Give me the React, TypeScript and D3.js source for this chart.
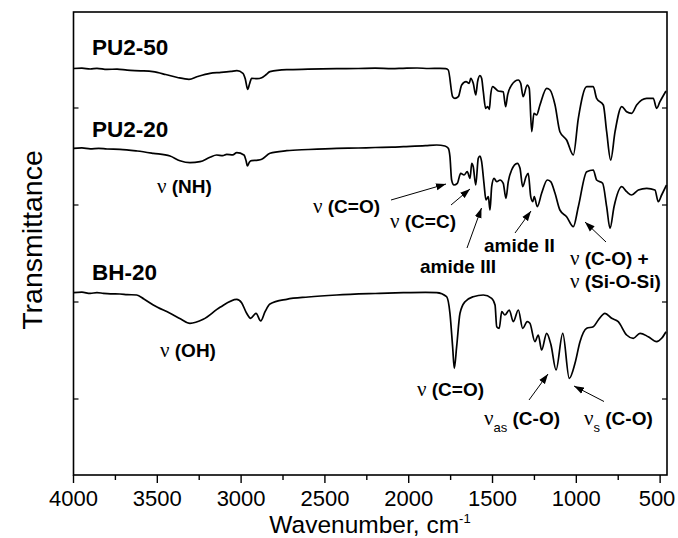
import React from 'react';
import * as d3 from 'd3';

const W = 678;
const H = 538;
const frame = { left: 73.5, right: 667, top: 12, bottom: 475 };

const xDomain: [number, number] = [4000, 459];
const yDomain: [number, number] = [0, 463];
const xMajorTicks = [4000, 3500, 3000, 2500, 2000, 1500, 1000, 500];
const xMinorTicks = [3750, 3250, 2750, 2250, 1750, 1250, 750];
const yTicks = [76, 173, 270, 367];

// wavenumber (cm^-1), transmittance (a.u., offset-stacked)
const pu250: [number, number][] = [
  [4000, 406.5], [3950, 406.9], [3900, 406.0], [3860, 406.7], [3800, 405.6], [3740, 405.9],
  [3680, 404.8], [3600, 404.2], [3526, 403.3], [3450, 400.5], [3380, 397.5], [3311, 395.7],
  [3260, 398.5], [3186, 401.7], [3120, 402.6], [3060, 403.6], [3025, 404.3], [2989, 401.7],
  [2975, 396.0], [2961, 385.7], [2950, 391.0], [2937, 396.7], [2905, 396.3], [2877, 397.3],
  [2850, 400.5], [2828, 403.3], [2728, 405.3], [2600, 405.8], [2430, 406.3], [2300, 406.5],
  [2200, 406.9], [2100, 406.4], [2034, 406.7], [1950, 407.0], [1880, 406.5], [1813, 406.7],
  [1780, 406.3], [1764, 405.0], [1738, 378.3], [1724, 376.7], [1704, 378.3], [1684, 390.0],
  [1658, 393.3], [1639, 391.7], [1630, 396.7], [1615, 391.7], [1600, 380.0], [1589, 393.3],
  [1575, 399.3], [1565, 396.7], [1555, 383.3], [1541, 366.7], [1529, 368.3], [1519, 365.7],
  [1511, 380.0], [1499, 388.3], [1485, 386.7], [1466, 384.0], [1436, 383.3], [1422, 368.3],
  [1410, 380.0], [1386, 390.0], [1346, 395.0], [1332, 391.7], [1317, 378.3], [1293, 390.0],
  [1281, 386.7], [1266, 343.3], [1253, 361.7], [1237, 360.0], [1217, 370.0], [1177, 386.7],
  [1157, 385.0], [1127, 370.0], [1098, 343.3], [1058, 335.0], [1018, 320.0], [988, 356.7],
  [938, 388.3], [899, 388.3], [879, 376.7], [839, 370.0], [819, 343.3], [795, 315.0],
  [769, 343.3], [729, 368.3], [700, 363.3], [670, 361.7], [640, 370.0], [580, 376.7],
  [541, 376.7], [521, 366.7], [501, 373.3], [465, 384.0],
];

const pu220: [number, number][] = [
  [4000, 326.7], [3950, 327.1], [3900, 326.2], [3850, 326.6], [3800, 326.0], [3723, 325.7],
  [3620, 324.0], [3524, 321.7], [3424, 319.0], [3365, 314.3], [3305, 312.3], [3245, 313.3],
  [3186, 317.7], [3146, 320.0], [3110, 319.4], [3086, 320.7], [3050, 320.2], [3026, 322.3],
  [2983, 320.0], [2970, 314.0], [2963, 309.0], [2950, 313.0], [2937, 314.3], [2900, 314.8],
  [2877, 315.7], [2828, 321.7], [2728, 324.3], [2600, 325.5], [2430, 326.7], [2300, 327.0],
  [2200, 327.5], [2100, 327.8], [2032, 328.3], [1900, 329.3], [1833, 330.0], [1784, 329.0],
  [1764, 326.7], [1754, 318.3], [1744, 295.0], [1730, 290.0], [1710, 291.7], [1690, 301.7],
  [1670, 300.0], [1651, 303.3], [1634, 296.7], [1624, 311.7], [1615, 308.3], [1600, 290.0],
  [1585, 316.7], [1575, 319.0], [1565, 313.3], [1551, 291.7], [1539, 275.0], [1525, 278.3],
  [1515, 265.0], [1505, 288.3], [1491, 296.7], [1475, 293.3], [1455, 295.0], [1436, 291.7],
  [1420, 276.7], [1406, 293.3], [1386, 305.0], [1352, 311.7], [1336, 306.7], [1320, 288.3],
  [1300, 298.3], [1287, 301.7], [1272, 278.3], [1260, 273.3], [1251, 278.3], [1233, 268.3],
  [1207, 281.7], [1173, 295.0], [1153, 293.3], [1127, 281.7], [1098, 265.0], [1058, 258.3],
  [1018, 248.3], [988, 268.3], [938, 303.3], [899, 305.0], [879, 295.0], [843, 291.7],
  [819, 268.3], [799, 246.7], [775, 268.3], [729, 288.3], [700, 283.3], [670, 280.0],
  [630, 285.0], [580, 286.7], [531, 285.0], [511, 273.3], [491, 280.0], [462, 290.0],
];

const bh20: [number, number][] = [
  [4000, 182.3], [3950, 182.8], [3900, 181.6], [3860, 182.4], [3822, 181.7], [3780, 181.2],
  [3723, 181.0], [3680, 180.4], [3623, 180.0], [3580, 176.0], [3524, 170.0], [3424, 161.7],
  [3360, 156.0], [3305, 151.7], [3226, 155.7], [3126, 167.7], [3026, 175.7], [2997, 172.3],
  [2967, 161.7], [2943, 156.7], [2911, 161.7], [2883, 154.0], [2857, 163.3], [2828, 171.0],
  [2728, 175.7], [2600, 178.0], [2430, 180.0], [2200, 181.5], [2032, 182.3], [1900, 182.6],
  [1833, 182.3], [1774, 178.3], [1754, 161.7], [1738, 128.3], [1728, 106.7], [1714, 128.3],
  [1694, 161.7], [1664, 173.3], [1615, 178.3], [1555, 180.0], [1505, 176.7], [1485, 170.0],
  [1475, 148.3], [1460, 146.7], [1445, 163.3], [1426, 160.0], [1400, 165.0], [1376, 153.3],
  [1346, 165.0], [1320, 146.7], [1293, 153.3], [1277, 151.7], [1247, 133.3], [1227, 140.0],
  [1207, 125.0], [1177, 141.7], [1151, 130.0], [1121, 105.0], [1081, 141.7], [1042, 96.7],
  [1008, 111.7], [978, 133.3], [938, 146.7], [899, 148.3], [869, 155.0], [829, 161.7],
  [789, 156.7], [750, 153.3], [700, 140.0], [660, 136.7], [620, 141.7], [571, 138.3],
  [521, 133.3], [491, 136.7], [465, 143.3],
];

const seriesNames = ['PU2-50', 'PU2-20', 'BH-20'];
const seriesData = [pu250, pu220, bh20];

const SANS = 'Liberation Sans, Arial, Helvetica, sans-serif';
const SERIF = 'Liberation Serif, Times New Roman, serif';

const seriesLabelPos = [
  { x: 92, y: 55 },
  { x: 92, y: 137 },
  { x: 92, y: 280 },
];

type Ann = { nu: boolean; sub?: string; text: string; x: number; y: number };
const annotations: Ann[] = [
  { nu: true, text: ' (NH)', x: 157, y: 193 },
  { nu: true, text: ' (OH)', x: 160, y: 357 },
  { nu: true, text: ' (C=O)', x: 313, y: 213 },
  { nu: true, text: ' (C=C)', x: 390, y: 228 },
  { nu: false, text: 'amide III', x: 420, y: 273 },
  { nu: false, text: 'amide II', x: 484, y: 252 },
  { nu: true, text: ' (C-O) +', x: 570, y: 265 },
  { nu: true, text: ' (Si-O-Si)', x: 570, y: 288 },
  { nu: true, text: ' (C=O)', x: 417, y: 396 },
  { nu: true, sub: 'as', text: ' (C-O)', x: 484, y: 425 },
  { nu: true, sub: 's', text: ' (C-O)', x: 584, y: 425 },
];

const arrows = [
  [391, 200, 446, 184],
  [451, 205, 470, 189],
  [467, 248, 481.5, 208],
  [515, 233, 531, 211],
  [606, 242, 585, 222],
  [529, 400, 548, 374],
  [604, 401.5, 574, 386],
];

export default function App() {
  const x = d3.scaleLinear().domain(xDomain).range([frame.left, frame.right]);
  const y = d3.scaleLinear().domain(yDomain).range([frame.bottom, frame.top]);
  const line = d3
    .line<[number, number]>()
    .x((d) => x(d[0]))
    .y((d) => y(d[1]))
    .curve(d3.curveMonotoneX);

  return (
    <svg
      width={W}
      height={H}
      viewBox={`0 0 ${W} ${H}`}
      style={{ position: 'absolute', left: 0, top: 0, display: 'block', background: '#fff' }}
    >
      <defs>
        <marker id="ah" markerUnits="userSpaceOnUse" markerWidth={10} markerHeight={8} refX={10} refY={4} orient="auto">
          <path d="M0,0.5 L10,4 L0,7.5 z" fill="#000" />
        </marker>
      </defs>
      <rect x={0} y={0} width={W} height={H} fill="#fff" />

      {seriesData.map((d, i) => (
        <path key={seriesNames[i]} d={line(d) || ''} fill="none" stroke="#000" strokeWidth={1.7} strokeLinejoin="round" />
      ))}

      {/* frame */}
      <rect
        x={frame.left}
        y={frame.top}
        width={frame.right - frame.left}
        height={frame.bottom - frame.top}
        fill="none"
        stroke="#000"
        strokeWidth={1.6}
      />

      {/* x ticks */}
      {xMajorTicks.map((t) => (
        <g key={'M' + t}>
          <line x1={x(t)} x2={x(t)} y1={frame.bottom} y2={frame.bottom + 8} stroke="#000" strokeWidth={1.4} />
          <text
            x={t === 500 ? Math.min(x(t), 657) : x(t)}
            y={505.5}
            textAnchor="middle"
            fontFamily={SANS}
            fontSize={22}
            fill="#000"
          >
            {t}
          </text>
        </g>
      ))}
      {xMinorTicks.map((t) => (
        <line key={'m' + t} x1={x(t)} x2={x(t)} y1={frame.bottom} y2={frame.bottom + 5} stroke="#000" strokeWidth={1.4} />
      ))}
      {/* y ticks (inward, both sides) */}
      {yTicks.map((t) => (
        <g key={'y' + t}>
          <line x1={frame.left} x2={frame.left + 5} y1={y(t)} y2={y(t)} stroke="#000" strokeWidth={1.2} />
          <line x1={frame.right} x2={frame.right - 5} y1={y(t)} y2={y(t)} stroke="#000" strokeWidth={1.2} />
        </g>
      ))}

      {/* axis titles */}
      <text x={370} y={532.5} textAnchor="middle" fontFamily={SANS} fontSize={24.5} fill="#000">
        Wavenumber, cm
        <tspan fontSize={13} dy={-10}>-1</tspan>
      </text>
      <text
        transform="translate(42,240) rotate(-90)"
        textAnchor="middle"
        fontFamily={SANS}
        fontSize={28.5}
        fill="#000"
      >
        Transmittance
      </text>

      {/* series labels */}
      {seriesNames.map((n, i) => (
        <text key={'l' + n} x={seriesLabelPos[i].x} y={seriesLabelPos[i].y} fontFamily={SANS} fontWeight="bold" fontSize={22.5} fill="#000">
          {n}
        </text>
      ))}

      {/* annotations */}
      {annotations.map((a, i) => (
        <text key={'a' + i} x={a.x} y={a.y} fontFamily={SANS} fontWeight="bold" fontSize={19} fill="#000">
          {a.nu && (
            <tspan fontFamily={SERIF} fontWeight="normal" fontSize={21}>
              ν
            </tspan>
          )}
          {a.sub && (
            <tspan fontSize={13} fontWeight="normal" dy={7}>
              {a.sub}
            </tspan>
          )}
          <tspan dy={a.sub ? -7 : 0}>{a.text}</tspan>
        </text>
      ))}

      {arrows.map((a, i) => (
        <line key={'ar' + i} x1={a[0]} y1={a[1]} x2={a[2]} y2={a[3]} stroke="#000" strokeWidth={1} markerEnd="url(#ah)" />
      ))}
    </svg>
  );
}
